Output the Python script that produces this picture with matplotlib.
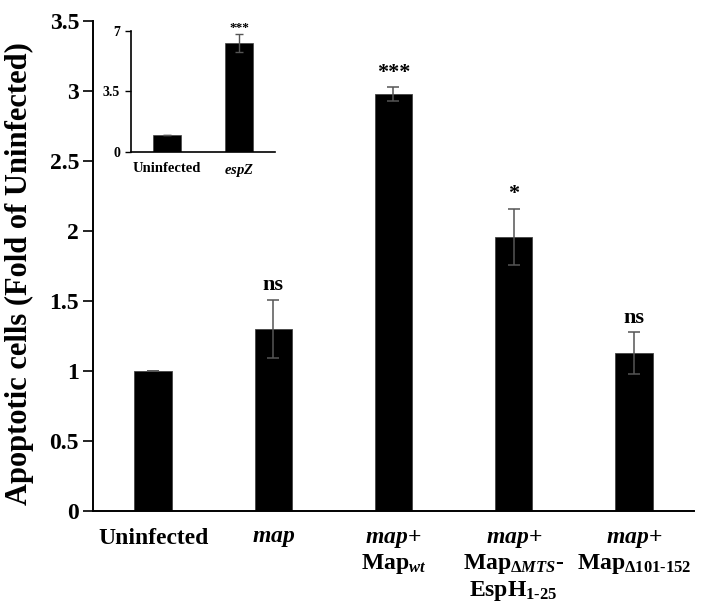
import matplotlib
matplotlib.use("Agg")
import matplotlib.pyplot as plt
import numpy as np

plt.rcParams['font.family'] = ['Liberation Serif', 'DejaVu Serif']
plt.rcParams['font.weight'] = 'bold'
plt.rcParams['mathtext.fontset'] = 'custom'
plt.rcParams['mathtext.rm'] = 'Liberation Serif:bold'
plt.rcParams['mathtext.it'] = 'Liberation Serif:bold:italic'
plt.rcParams['mathtext.bf'] = 'Liberation Serif:bold'

# ---- data ----
categories = ["Uninfected", "map", "map+Map_wt", "map+Map_dMTS-EspH1-25", "map+Map_d101-152"]
tick_labels = [
    "Uninfected",
    r"$\mathit{map}$",
    "$\\mathit{map}$+\nMap$_{\\mathit{wt}}$",
    "$\\mathit{map}$+\nMap$_{\\mathit{ΔMTS}}$-\nEspH$_{\\text{1-25}}$",
    "$\\mathit{map}$+\nMap$_{\\mathit{Δ101\\text{-}152}}$",
]
values = [1.0, 1.30, 2.98, 1.96, 1.13]
errors = [0.0, 0.21, 0.05, 0.20, 0.15]
signif = ["", "ns", "***", "*", "ns"]

inset_categories = ["Uninfected", "espZ"]
inset_tick_labels = ["Uninfected", r"$\mathit{espZ}$"]
inset_values = [1.0, 6.3]
inset_errors = [0.0, 0.5]
inset_signif = ["", "***"]

main_yticks = [0, 0.5, 1, 1.5, 2, 2.5, 3, 3.5]
main_yticklabels = ["0", "0.5", "1", "1.5", "2", "2.5", "3", "3.5"]
inset_yticks = [0, 3.5, 7]
inset_yticklabels = ["0", "3.5", "7"]

fig = plt.figure(figsize=(7.19, 6.05), dpi=100)
ax = fig.add_axes([0.1293, 0.1554, 0.8359, 0.8099])

x = np.arange(len(categories))
ax.bar(x, values, width=0.31, color='black', edgecolor='#444444', linewidth=0.6, zorder=2)
ax.errorbar(x, values, yerr=errors, fmt='none', ecolor='#555555', elinewidth=1.1,
            capsize=4, capthick=1.1, zorder=3)
for xi, v, e, s in zip(x, values, errors, signif):
    if s:
        ax.text(xi, v + e + 0.03, s, ha='center', va='bottom', fontsize=16, fontweight='bold')

ax.set_xlim(-0.5, 4.5)
ax.set_ylim(0, 3.5)
ax.set_yticks(main_yticks)
ax.set_yticklabels(main_yticklabels)
ax.set_xticks(x)
ax.set_xticklabels(tick_labels, fontsize=17, linespacing=1.15, va='top')
ax.tick_params(axis='x', length=0, pad=12)
ax.tick_params(axis='y', direction='out', length=7, width=1.2, labelsize=17, pad=3)
for sp in ['top', 'right']:
    ax.spines[sp].set_visible(False)
for sp in ['left', 'bottom']:
    ax.spines[sp].set_linewidth(1.4)
ax.set_ylabel("Apoptotic cells (Fold of Uninfected)", fontsize=22, fontweight='bold')
ax.yaxis.set_label_coords(-0.098, 0.485)

# ---- inset ----
axi = fig.add_axes([0.1822, 0.7488, 0.2003, 0.2])
xi_ = np.arange(len(inset_categories))
axi.bar(xi_, inset_values, width=0.4, color='black', edgecolor='#444444', linewidth=0.5, zorder=2)
axi.errorbar(xi_, inset_values, yerr=inset_errors, fmt='none', ecolor='#555555',
             elinewidth=1, capsize=3, capthick=1, zorder=3)
for xx, v, e, s in zip(xi_, inset_values, inset_errors, inset_signif):
    if s:
        axi.text(xx, v + e + 0.05, s, ha='center', va='bottom', fontsize=9.5, fontweight='bold')
axi.set_xlim(-0.5, 1.5)
axi.set_ylim(0, 7)
axi.set_yticks(inset_yticks)
axi.set_yticklabels(inset_yticklabels)
axi.set_xticks(xi_)
axi.set_xticklabels(inset_tick_labels, fontsize=10.5)
axi.tick_params(axis='x', length=0, pad=7)
axi.tick_params(axis='y', direction='out', length=4, width=1, labelsize=10, pad=4)
for sp in ['top', 'right']:
    axi.spines[sp].set_visible(False)
for sp in ['left', 'bottom']:
    axi.spines[sp].set_linewidth(1.2)
axi.patch.set_alpha(0)

fig.savefig("out.png", dpi=100)
